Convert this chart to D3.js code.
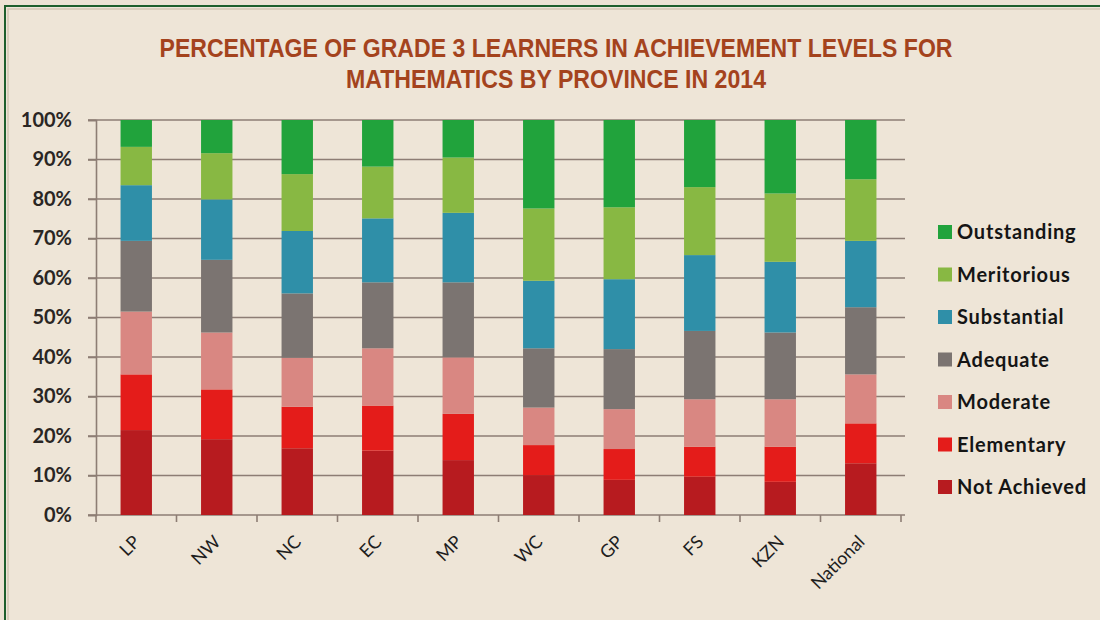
<!DOCTYPE html>
<html>
<head>
<meta charset="utf-8">
<script src="https://cdn.jsdelivr.net/npm/d3@7"></script>
<style>
  html, body { margin: 0; padding: 0; background: #ece2d3; }
  svg { display: block; }
</style>
</head>
<body>
<svg id="chart" width="1100" height="620"></svg>
<script>
// ---- data ----
const categories = ["LP", "NW", "NC", "EC", "MP", "WC", "GP", "FS", "KZN", "National"];
const levels = ["Not Achieved", "Elementary", "Moderate", "Adequate", "Substantial", "Meritorious", "Outstanding"];
const notAchieved = [21.5, 19.2, 16.9, 16.3, 13.9, 10.1, 8.9, 9.7, 8.4, 13.1];
const elementary  = [14.1, 12.6, 10.5, 11.4, 11.7, 7.6, 7.8, 7.6, 8.9, 10.1];
const moderate    = [15.9, 14.4, 12.4, 14.5, 14.3, 9.5, 10.1, 12.0, 12.0, 12.4];
const adequate    = [17.9, 18.4, 16.3, 16.7, 19.0, 15.0, 15.2, 17.3, 16.9, 17.0];
const substantial = [14.1, 15.3, 15.8, 16.2, 17.6, 17.1, 17.7, 19.2, 17.9, 16.8];
const meritorious = [9.7, 11.7, 14.4, 13.1, 14.0, 18.3, 18.2, 17.2, 17.3, 15.6];
const outstanding = [6.8, 8.4, 13.7, 11.8, 9.5, 22.4, 22.1, 17.0, 18.6, 15.0];
const yTicks = [0, 10, 20, 30, 40, 50, 60, 70, 80, 90, 100];
const titleLines = ["PERCENTAGE OF GRADE 3 LEARNERS IN ACHIEVEMENT LEVELS FOR", "MATHEMATICS BY PROVINCE IN 2014"];

const seriesValues = [notAchieved, elementary, moderate, adequate, substantial, meritorious, outstanding];
const colors = ["#b71b1f", "#e41c1a", "#d98782", "#7b7471", "#2f8fa8", "#88b843", "#21a33c"];

// table for stacking
const table = categories.map((c, i) => {
  const row = { cat: c };
  levels.forEach((l, j) => row[l] = seriesValues[j][i]);
  return row;
});

const svg = d3.select("#chart");

// frame
svg.append("rect").attr("x", 5).attr("y", 6).attr("width", 1200).attr("height", 700)
  .attr("fill", "#eee5d7").attr("stroke", "#1d5e2b").attr("stroke-width", 2);
svg.append("rect").attr("x", 8).attr("y", 9).attr("width", 1200).attr("height", 700)
  .attr("fill", "none").attr("stroke", "#d4c5b3").attr("stroke-width", 1.5);

// title
const titleWidths = [793, 420];
const titleBase = [57, 88];
titleLines.forEach((t, i) => {
  svg.append("text")
    .attr("x", 556).attr("y", titleBase[i])
    .attr("text-anchor", "middle")
    .attr("textLength", titleWidths[i])
    .attr("lengthAdjust", "spacingAndGlyphs")
    .style("font-family", "'Liberation Sans Narrow', 'Arial Narrow', 'Liberation Sans', Arial, sans-serif")
    .style("font-weight", "bold")
    .style("font-size", "26px")
    .style("fill", "#a4431d")
    .text(t);
});

// scales
const plotL = 96, plotR = 901, plotT = 120, plotB = 515;
const x = d3.scaleBand().domain(categories).range([plotL, plotR]).paddingInner(0.61).paddingOuter(0.305);
const y = d3.scaleLinear().domain([0, 100]).range([plotB, plotT]);

const gridColor = "#8d7d74";

// gridlines
svg.append("g").selectAll("line").data(yTicks).join("line")
  .attr("x1", plotL - 8).attr("x2", plotR + 4)
  .attr("y1", d => y(d)).attr("y2", d => y(d))
  .attr("stroke", gridColor).attr("stroke-width", 1.6);

// y axis
const yAxis = d3.axisLeft(y).tickValues(yTicks).tickFormat(d => d + "%").tickSize(8).tickPadding(16);
const gy = svg.append("g").attr("transform", `translate(${plotL},0)`).call(yAxis);
gy.select(".domain").attr("stroke", gridColor).attr("stroke-width", 1.6);
gy.selectAll(".tick line").attr("stroke", gridColor).attr("stroke-width", 1.6);
gy.selectAll("text")
  .style("font-family", "Lato, 'Open Sans', sans-serif")
  .style("font-weight", "bold")
  .style("font-size", "20px")
  .style("fill", "#2a2624");

// x axis ticks at band boundaries
const step = x.step();
const boundaries = categories.map(c => x(c) - x.paddingInner() * step / 2).concat([plotR]);
svg.append("g").selectAll("line").data(boundaries).join("line")
  .attr("x1", d => d).attr("x2", d => d)
  .attr("y1", plotB).attr("y2", plotB + 7)
  .attr("stroke", gridColor).attr("stroke-width", 1.6);

// bars
const stack = d3.stack().keys(levels);
const stacked = stack(table);
svg.append("g").selectAll("g").data(stacked).join("g")
  .attr("fill", (d, i) => colors[i])
  .selectAll("rect").data(d => d).join("rect")
  .attr("x", d => x(d.data.cat))
  .attr("width", x.bandwidth())
  .attr("y", d => y(d[1]))
  .attr("height", d => y(d[0]) - y(d[1]));

// x labels
svg.append("g").selectAll("text").data(categories).join("text")
  .attr("transform", d => `translate(${x(d) + x.bandwidth() / 2 + 5},${plotB + 28}) rotate(-45)`)
  .attr("text-anchor", "end")
  .style("font-family", "Lato, 'Open Sans', sans-serif")
  .style("font-size", "18px")
  .style("fill", "#1e1e1e")
  .text(d => d);

// legend
const legendOrder = levels.slice().reverse();
const legendColors = colors.slice().reverse();
const lg = svg.append("g").attr("transform", "translate(938,232)");
const rows = lg.selectAll("g").data(legendOrder).join("g")
  .attr("transform", (d, i) => `translate(0,${i * 42.5})`);
rows.append("rect").attr("x", 0).attr("y", -7).attr("width", 14).attr("height", 14)
  .attr("fill", (d, i) => legendColors[i]);
rows.append("text").attr("x", 19).attr("y", 7)
  .style("font-family", "Lato, 'Open Sans', sans-serif")
  .style("font-weight", "bold")
  .style("font-size", "20px")
  .style("letter-spacing", "0.8px")
  .style("fill", "#151515")
  .text(d => d);
</script>
</body>
</html>
